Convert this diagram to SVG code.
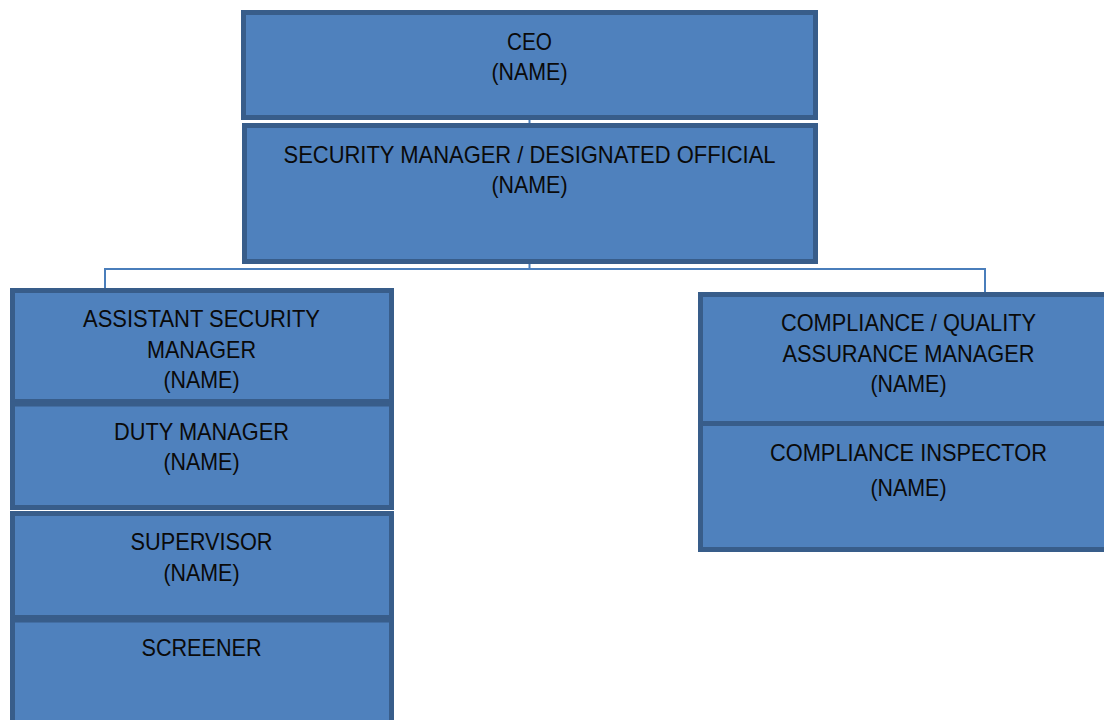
<svg xmlns="http://www.w3.org/2000/svg" width="1104" height="720" viewBox="0 0 1104 720">
<style>
.box{fill:#4f81bd;stroke:#385d8a;stroke-width:5}
.t{font-family:"Liberation Sans",Arial,sans-serif;font-size:24.5px;fill:#0a0a0a;text-anchor:middle}
.c{fill:none;stroke:#4a7ebb;stroke-width:2}
</style>
<rect width="1104" height="720" fill="#ffffff"/>
<g id="connectors">
<line class="c" x1="529.5" y1="119" x2="529.5" y2="124"/>
<line class="c" x1="529.5" y1="263" x2="529.5" y2="269"/>
<polyline class="c" points="105,289 105,269 985,269 985,293"/>
</g>
<g id="ceo">
<rect class="box" x="243.5" y="12.5" width="572" height="105"/>
<text class="t" x="529.5" y="50" textLength="45" lengthAdjust="spacingAndGlyphs">CEO</text>
<text class="t" x="529.5" y="80" textLength="76" lengthAdjust="spacingAndGlyphs">(NAME)</text>
</g>
<g id="security-manager">
<rect class="box" x="244.5" y="125.5" width="571" height="136"/>
<text class="t" x="529.5" y="163" textLength="492" lengthAdjust="spacingAndGlyphs">SECURITY MANAGER / DESIGNATED OFFICIAL</text>
<text class="t" x="529.5" y="193" textLength="76" lengthAdjust="spacingAndGlyphs">(NAME)</text>
</g>
<g id="assistant-security-manager">
<rect class="box" x="12.5" y="290.5" width="379" height="111"/>
<text class="t" x="201.5" y="327" textLength="237" lengthAdjust="spacingAndGlyphs">ASSISTANT SECURITY</text>
<text class="t" x="201.5" y="358" textLength="109" lengthAdjust="spacingAndGlyphs">MANAGER</text>
<text class="t" x="201.5" y="388" textLength="76" lengthAdjust="spacingAndGlyphs">(NAME)</text>
</g>
<g id="duty-manager">
<rect class="box" x="12.5" y="404" width="379" height="103.5"/>
<text class="t" x="201.5" y="440" textLength="175" lengthAdjust="spacingAndGlyphs">DUTY MANAGER</text>
<text class="t" x="201.5" y="470" textLength="76" lengthAdjust="spacingAndGlyphs">(NAME)</text>
</g>
<g id="supervisor">
<rect class="box" x="12.5" y="513.5" width="379" height="104"/>
<text class="t" x="201.5" y="550" textLength="142" lengthAdjust="spacingAndGlyphs">SUPERVISOR</text>
<text class="t" x="201.5" y="581" textLength="76" lengthAdjust="spacingAndGlyphs">(NAME)</text>
</g>
<g id="screener">
<rect class="box" x="12.5" y="620" width="379" height="112"/>
<text class="t" x="201.5" y="656" textLength="120" lengthAdjust="spacingAndGlyphs">SCREENER</text>
</g>
<g id="compliance-qa-manager">
<rect class="box" x="700.5" y="294.5" width="420" height="129"/>
<text class="t" x="908.5" y="331" textLength="255" lengthAdjust="spacingAndGlyphs">COMPLIANCE / QUALITY</text>
<text class="t" x="908.5" y="362" textLength="252" lengthAdjust="spacingAndGlyphs">ASSURANCE MANAGER</text>
<text class="t" x="908.5" y="392" textLength="76" lengthAdjust="spacingAndGlyphs">(NAME)</text>
</g>
<g id="compliance-inspector">
<rect class="box" x="700.5" y="423.5" width="420" height="126"/>
<text class="t" x="908.5" y="461" textLength="277" lengthAdjust="spacingAndGlyphs">COMPLIANCE INSPECTOR</text>
<text class="t" x="908.5" y="496" textLength="76" lengthAdjust="spacingAndGlyphs">(NAME)</text>
</g>
</svg>
